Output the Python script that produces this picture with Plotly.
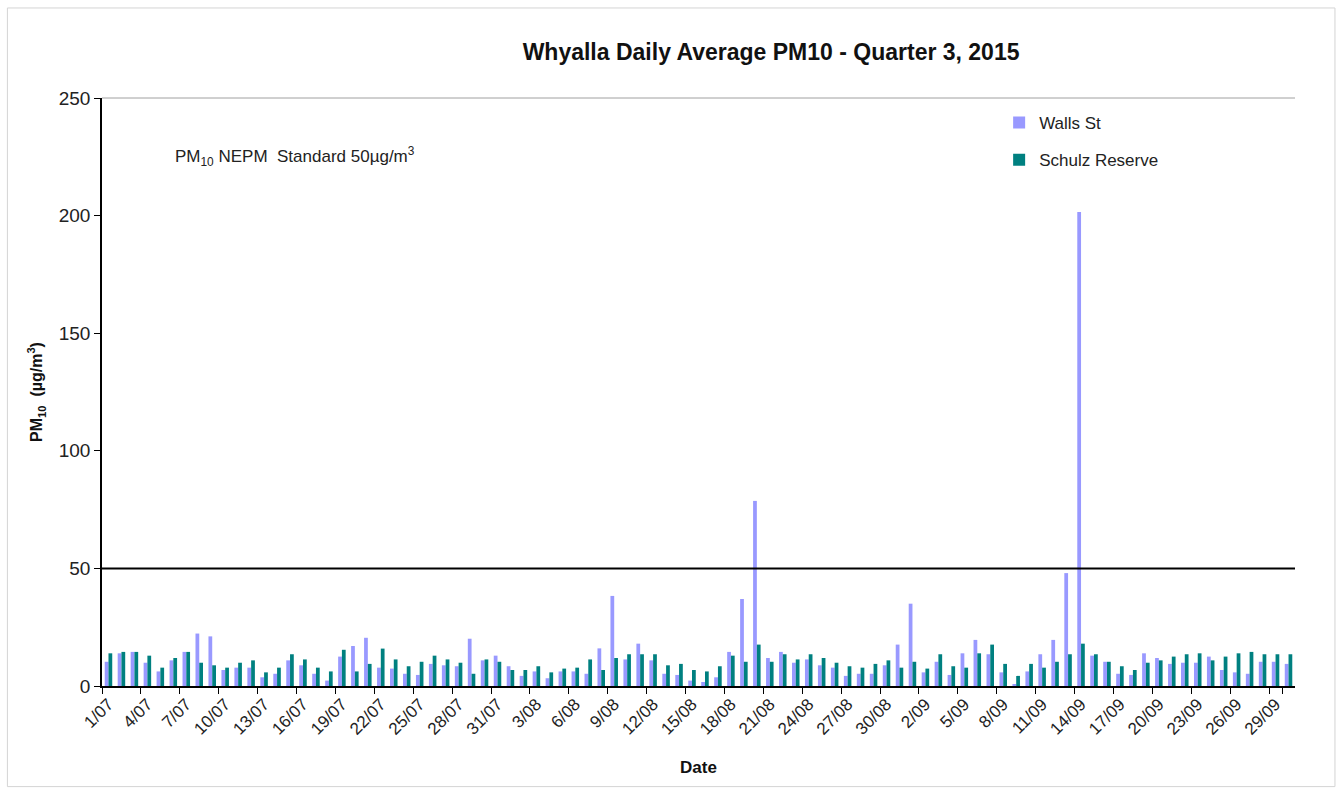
import plotly.graph_objects as go

# Day labels, 1 July to 30 September 2015
month_days = [("07", 31), ("08", 31), ("09", 30)]
dates = [f"{d}/{m}" for m, n in month_days for d in range(1, n + 1)]

# Daily average PM10 (µg/m³)
walls_st = [
    10.3, 13.9, 14.5, 9.9, 6.2, 10.9, 14.5, 22.3, 21.1, 6.8,
    7.8, 7.8, 3.7, 5.2, 10.9, 8.8, 5.2, 2.3, 12.5, 17.0,
    20.5, 7.8, 7.4, 5.2, 4.7, 9.4, 8.8, 8.4, 20.1, 10.9,
    12.9, 8.4, 4.3, 6.2, 3.3, 6.2, 6.2, 5.2, 16.0, 38.3,
    11.3, 18.0, 10.9, 5.2, 4.7, 2.3, 1.7, 3.7, 14.5, 37.0,
    78.7, 11.9, 14.5, 9.9, 11.3, 8.8, 7.8, 4.3, 5.2, 5.2,
    8.8, 17.6, 35.0, 5.8, 10.3, 4.7, 13.9, 19.6, 13.5, 5.8,
    0.7, 6.2, 13.5, 19.6, 48.0, 201.5, 12.9, 10.3, 5.2, 4.7,
    13.9, 11.9, 9.4, 9.9, 9.9, 12.5, 6.8, 5.8, 5.2, 10.3,
    10.3, 9.4,
]
schulz_reserve = [
    13.9, 14.5, 14.5, 12.9, 7.8, 11.9, 14.5, 9.9, 8.8, 7.8,
    9.9, 10.9, 5.8, 7.8, 13.5, 11.3, 7.8, 6.2, 15.4, 6.2,
    9.4, 15.9, 11.3, 8.4, 10.3, 12.9, 11.3, 9.9, 5.2, 11.3,
    10.3, 6.8, 6.8, 8.4, 5.8, 7.4, 7.8, 11.3, 6.8, 11.9,
    13.5, 13.5, 13.5, 8.8, 9.4, 6.8, 6.2, 8.4, 12.9, 10.3,
    17.6, 10.3, 13.5, 11.3, 13.5, 11.9, 9.9, 8.4, 7.8, 9.4,
    10.9, 7.8, 10.3, 7.4, 13.5, 8.4, 7.8, 13.9, 17.6, 9.4,
    4.3, 9.4, 7.8, 10.3, 13.5, 18.0, 13.5, 10.3, 8.4, 6.8,
    9.9, 10.9, 12.5, 13.5, 13.9, 10.9, 12.5, 13.9, 14.5, 13.5,
    13.5, 13.5,
]
nepm_standard = 50
tick_labels = dates[::3]

FONT = "Arial, Liberation Sans, sans-serif"

fig = go.Figure()
fig.add_trace(go.Bar(x=dates, y=walls_st, name="Walls St",
                     marker=dict(color="#9999FF", line=dict(width=0)),
                     legendgroup="a"))
fig.add_trace(go.Bar(x=dates, y=schulz_reserve, name="Schulz Reserve",
                     marker=dict(color="#008080", line=dict(width=0)),
                     legendgroup="b"))

# NEPM standard line
fig.add_shape(type="line", xref="paper", yref="y", x0=0, x1=1,
              y0=nepm_standard, y1=nepm_standard,
              line=dict(color="black", width=2))

# Plot-area top edge
fig.add_shape(type="line", xref="paper", yref="paper", x0=0, x1=1, y0=1, y1=1,
              line=dict(color="#a0a0a0", width=1))

# Outer chart frame
fig.add_shape(type="rect", xref="paper", yref="paper",
              x0=-0.0793, x1=1.0335, y0=-0.1711, y1=1.1531,
              line=dict(color="#d4d4d4", width=1), fillcolor="rgba(0,0,0,0)")

fig.add_annotation(xref="paper", yref="paper", x=0.0595, y=0.901,
                   xanchor="left", yanchor="middle", showarrow=False,
                   text="PM<sub>10</sub> NEPM  Standard 50µg/m<sup>3</sup>",
                   font=dict(family=FONT, size=17, color="#222"))

fig.update_layout(
    width=1341, height=794,
    margin=dict(l=102, r=46, t=98, b=108),
    paper_bgcolor="white", plot_bgcolor="white",
    font=dict(family=FONT, color="#222"),
    title=dict(text="<b>Whyalla Daily Average PM10 - Quarter 3, 2015</b>",
               x=0.575, xanchor="center", y=0.934, yanchor="middle",
               font=dict(size=23, color="#111")),
    barmode="group", bargap=0.42, bargroupgap=0,
    showlegend=True,
    legend=dict(x=0.752, y=0.988, xanchor="left", yanchor="top",
                font=dict(size=17, color="#222"), bgcolor="rgba(0,0,0,0)",
                tracegroupgap=12, itemwidth=30, traceorder="grouped"),
    xaxis=dict(type="category", tickmode="array", tickvals=tick_labels,
               ticktext=tick_labels, tickson="boundaries", tickangle=-45,
               ticks="outside", ticklen=6, tickcolor="black",
               showline=True, linecolor="black", linewidth=1.5,
               showgrid=False, tickfont=dict(size=17, color="#222"),
               title=dict(text="<b>Date</b>", font=dict(size=17, color="#111"),
                          standoff=24)),
    yaxis=dict(range=[0, 250], dtick=50, ticks="outside", ticklen=6,
               tickcolor="black", showline=True, linecolor="black",
               linewidth=1.5, showgrid=False, zeroline=False,
               tickfont=dict(size=19, color="#222"),
               title=dict(text="<b>PM<sub>10</sub>  (µg/m<sup>3</sup>)</b>",
                          font=dict(size=16, color="#111"), standoff=12)),
)

fig.write_html("out.html")
